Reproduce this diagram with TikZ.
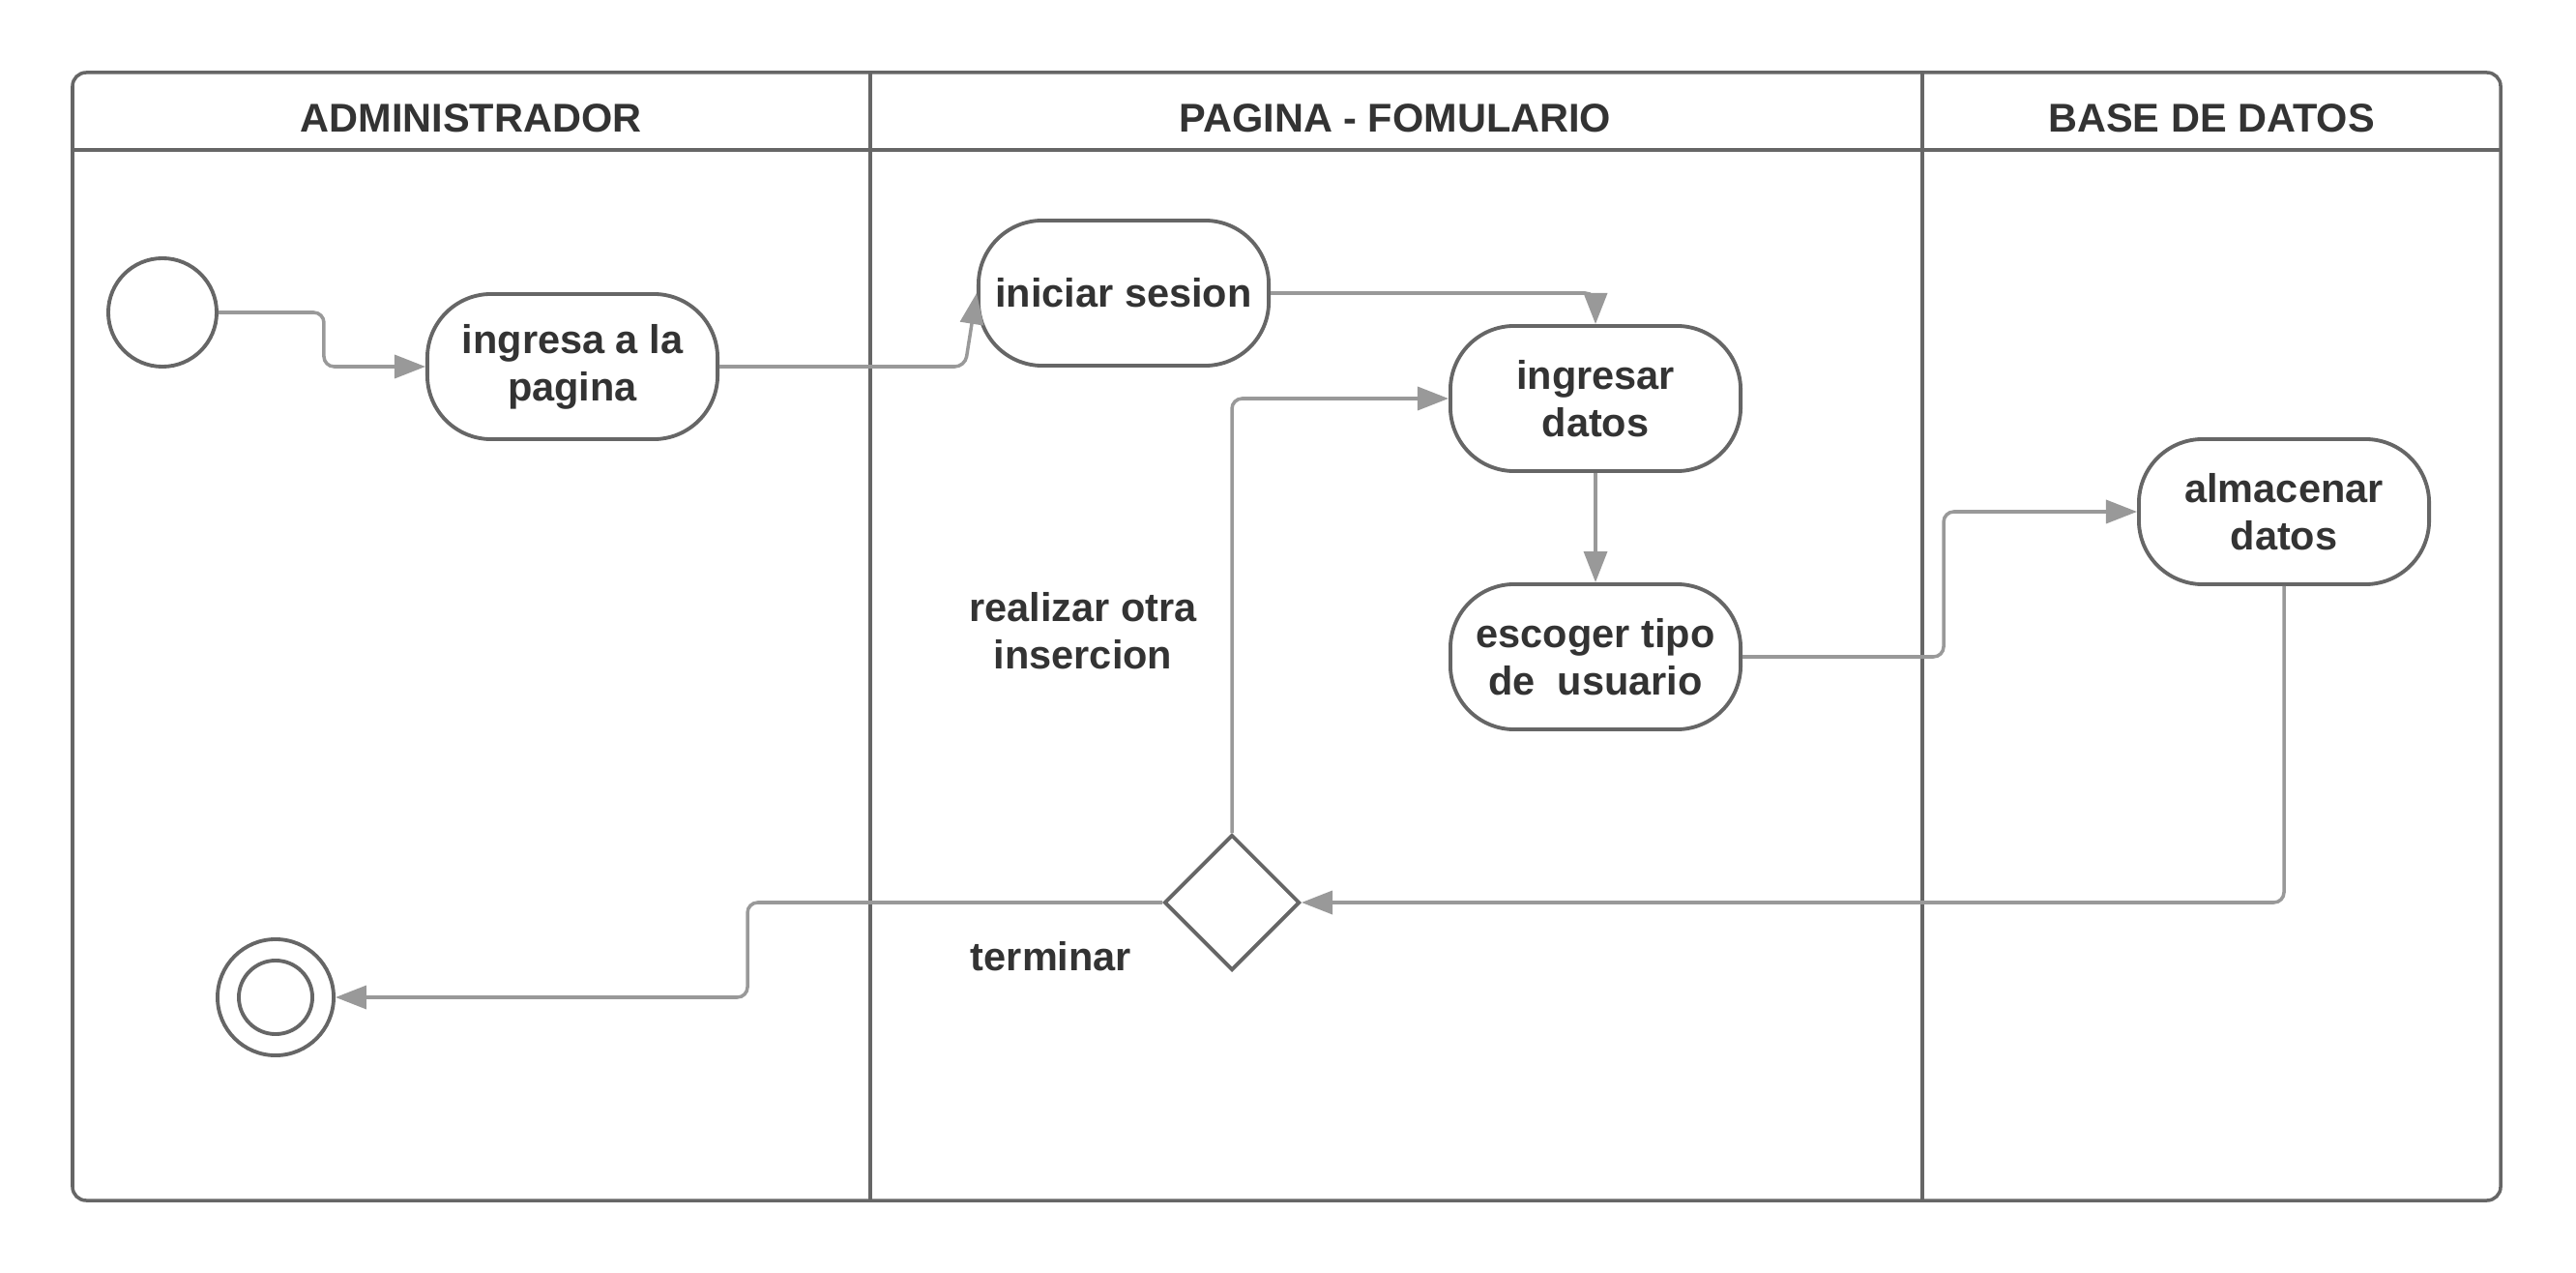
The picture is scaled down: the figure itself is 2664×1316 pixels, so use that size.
\documentclass[tikz,border=0pt]{standalone}
\usepackage{fontspec}
\setmainfont{Liberation Sans}
\usepackage{tikz}
\usetikzlibrary{arrows.meta,calc,positioning,shapes.geometric}
\definecolor{LaneLine}{HTML}{666666}
\definecolor{FlowGray}{HTML}{999999}
\definecolor{LabelText}{HTML}{333333}
\tikzset{
  >=Triangle,
  lane/.style={draw=LaneLine,line width=1pt},
  lanehead/.style={font=\fontsize{11.8}{14}\selectfont\bfseries,text=LabelText},
  actionbox/.style={rectangle,rounded corners=0.66cm,draw=LaneLine,
    line width=1.1pt,fill=white,minimum width=3cm,minimum height=1.5cm,align=center,
    inner sep=2pt,font=\fontsize{11.8}{14}\selectfont\bfseries,text=LabelText},
  startnode/.style={circle,draw=LaneLine,line width=1.1pt,minimum size=1.12cm,inner sep=0pt},
  endring/.style={circle,draw=LaneLine,line width=1.1pt,minimum size=1.2cm,inner sep=0pt},
  decisionbox/.style={diamond,draw=LaneLine,line width=1.1pt,fill=white,
    minimum width=1.4cm,minimum height=1.4cm,inner sep=0pt},
  flow/.style={draw=FlowGray,line width=1pt,rounded corners=3pt,
    -{Triangle[length=0.32cm,width=0.24cm,fill=FlowGray]}},
  guard/.style={font=\fontsize{11.8}{14}\selectfont\bfseries,text=LabelText,align=center}
}
\begin{document}
\begin{tikzpicture}[x=0.01cm,y=-0.01cm]
  \useasboundingbox (0,0) rectangle (2664,1316);
  % swimlanes
  \draw[lane,rounded corners=4pt] (75,75) rectangle (2586,1241);
  \draw[lane] (75,155) -- (2586,155);
  \draw[lane] (900,75) -- (900,1241);
  \draw[lane] (1988,75) -- (1988,1241);
  \foreach \name/\x in {ADMINISTRADOR/487,PAGINA - FOMULARIO/1443,BASE DE DATOS/2287} {
    \node[lanehead] at (\x,122) {\name};
  }
  % activities
  \node[startnode] (inicio) at (168,323) {};
  \node[actionbox] (ingresa) at (592,379) {ingresa a la\\pagina};
  \node[actionbox] (sesion) at (1162,303) {iniciar sesion};
  \node[actionbox] (ingresar) at (1650,412) {ingresar\\datos};
  \node[actionbox] (escoger) at (1650,679) {escoger tipo\\de\ \ usuario};
  \node[actionbox] (almacenar) at (2362,529) {almacenar\\datos};
  \node[decisionbox] (decision) at (1274,933) {};
  \node[endring] (fin) at (285,1031) {};
  \node[circle,draw=LaneLine,line width=1.1pt,minimum size=0.76cm,inner sep=0pt] (finin) at (fin) {};
  \node[guard] (otra) at (1120,652) {realizar otra\\insercion};
  \node[guard] (terminar) at (1087,989) {terminar};
  % flows
  \draw[flow] (inicio.east) -- ++(109,0) |- (ingresa.west);
  \draw[flow] (ingresa.east) -- ($(sesion.west |- ingresa.east)+(-12,0)$) -- (sesion.west);
  \draw[flow] (sesion.east) -| (ingresar.north);
  \draw[flow] (ingresar.south) -- (escoger.north);
  \draw[flow] (escoger.east) -- ++(208,0) |- (almacenar.west);
  \draw[flow] (almacenar.south) |- (decision.east);
  \draw[flow] (decision.north) |- (ingresar.west);
  \draw[flow] (decision.west) -- ++(-429,0) |- (fin.east);
\end{tikzpicture}
\end{document}
